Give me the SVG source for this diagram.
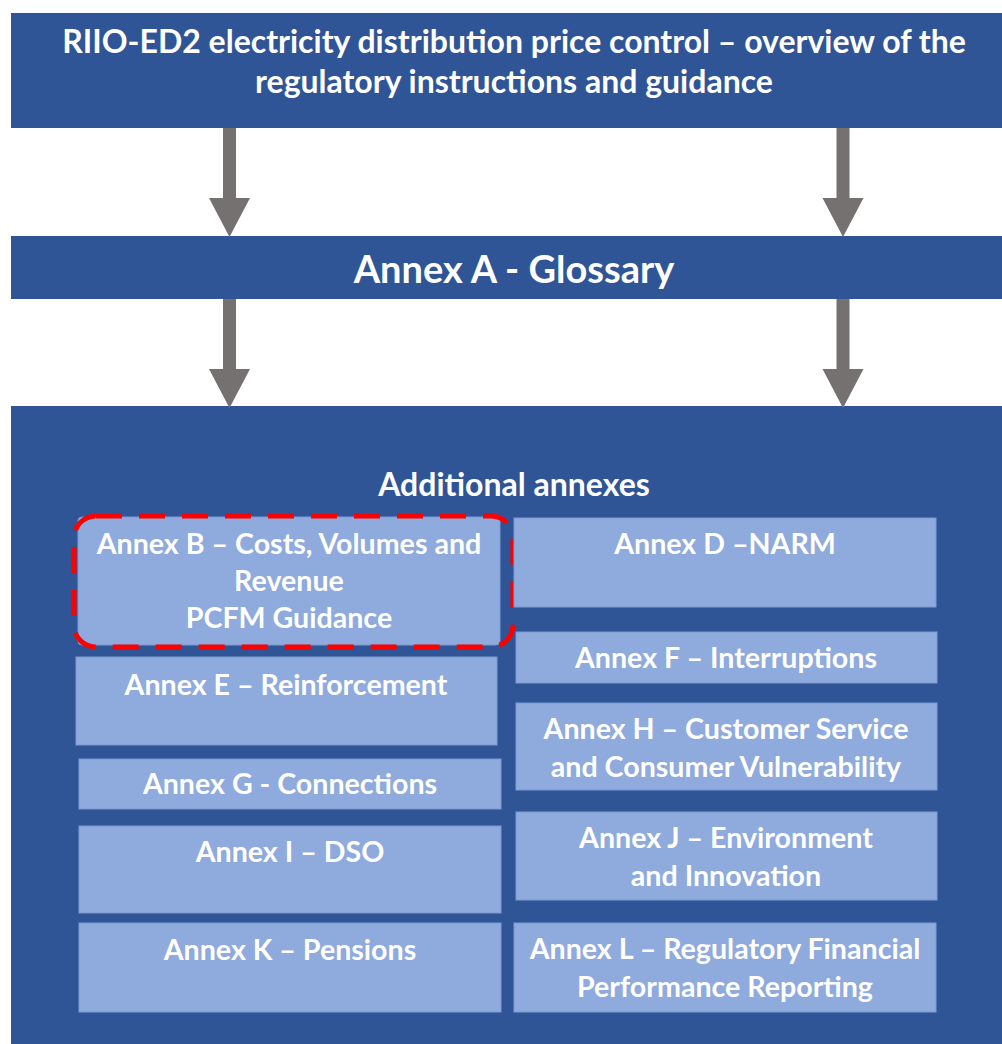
<svg xmlns="http://www.w3.org/2000/svg" width="1002" height="1044" viewBox="0 0 1002 1044">
<style>
.bar{fill:#2F5597}
.box{fill:#8FAADC;stroke:#7C9BD3;stroke-width:1}
.t{font-family:Lato,"Liberation Sans",sans-serif;font-weight:bold;fill:#FFFFFF;text-anchor:middle}
.s32{font-size:32px}
.s28{font-size:28.6px}
.arr{fill:#767171}
</style>
<defs>
<path id="arrow" d="M-6.5,0 H6.5 V70 H20.5 L0,109 L-20.5,70 H-6.5 Z"/>
</defs>
<rect width="1002" height="1044" fill="#FFFFFF"/>
<g id="header">
<rect class="bar" x="11" y="13" width="991" height="115"/>
<text class="t s32" x="514" y="53">RIIO-ED2 electricity distribution price control – overview of the</text>
<text class="t s32" x="514" y="93">regulatory instructions and guidance</text>
</g>
<g id="glossary">
<rect class="bar" x="11" y="236" width="991" height="63"/>
<text class="t" style="font-size:38px" x="514" y="283">Annex A - Glossary</text>
</g>
<g id="additional">
<rect class="bar" x="11" y="406" width="991" height="638"/>
<text class="t" style="font-size:32px" x="514" y="496">Additional annexes</text>
</g>
<g id="connectors">
<use href="#arrow" class="arr" x="229.5" y="128"/>
<use href="#arrow" class="arr" x="843" y="128"/>
<use href="#arrow" class="arr" x="229.5" y="299"/>
<use href="#arrow" class="arr" x="843" y="299"/>
</g>
<g id="annexB">
<rect class="box" x="78" y="517" width="422" height="128" rx="4"/>
<text class="t s28" x="289" y="554">Annex B – Costs, Volumes and</text>
<text class="t s28" x="289" y="591">Revenue</text>
<text class="t s28" x="289" y="628">PCFM Guidance</text>
<rect x="74" y="516" width="439" height="131" rx="22" fill="none" stroke="#FF0000" stroke-width="5" stroke-dasharray="26 17"/>
</g>
<g id="annexD">
<rect class="box" x="514" y="518" width="422" height="89"/>
<text class="t s28" x="725" y="554">Annex D –NARM</text>
</g>
<g id="annexE">
<rect class="box" x="76" y="657" width="421" height="88"/>
<text class="t s28" x="286" y="695">Annex E – Reinforcement</text>
</g>
<g id="annexF">
<rect class="box" x="516" y="632" width="421" height="51"/>
<text class="t s28" x="726" y="668">Annex F – Interruptions</text>
</g>
<g id="annexG">
<rect class="box" x="79" y="759" width="422" height="50"/>
<text class="t s28" x="290" y="794">Annex G - Connections</text>
</g>
<g id="annexH">
<rect class="box" x="516" y="703" width="421" height="87"/>
<text class="t s28" x="726" y="739">Annex H – Customer Service</text>
<text class="t s28" x="726" y="777">and Consumer Vulnerability</text>
</g>
<g id="annexI">
<rect class="box" x="79" y="826" width="422" height="87"/>
<text class="t s28" x="290" y="862">Annex I – DSO</text>
</g>
<g id="annexJ">
<rect class="box" x="516" y="812" width="421" height="88"/>
<text class="t s28" x="726" y="848">Annex J – Environment</text>
<text class="t s28" x="726" y="886">and Innovation</text>
</g>
<g id="annexK">
<rect class="box" x="79" y="923" width="422" height="89"/>
<text class="t s28" x="290" y="960">Annex K – Pensions</text>
</g>
<g id="annexL">
<rect class="box" x="514" y="923" width="422" height="89"/>
<text class="t s28" x="725" y="959">Annex L – Regulatory Financial</text>
<text class="t s28" x="725" y="997">Performance Reporting</text>
</g>
</svg>
